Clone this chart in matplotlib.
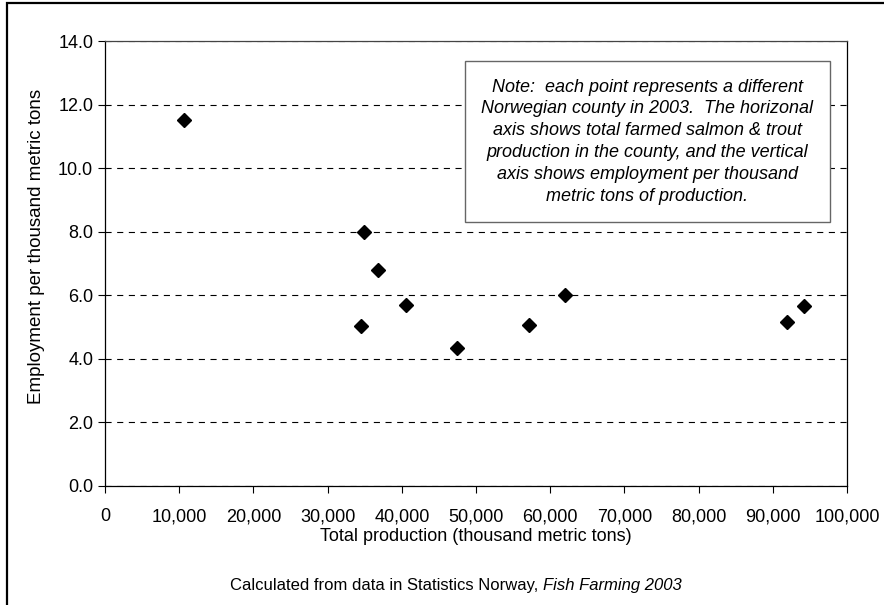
import matplotlib.pyplot as plt
from matplotlib.patches import Rectangle
from matplotlib.ticker import FuncFormatter

plt.rcParams['font.family'] = ['Liberation Sans', 'DejaVu Sans']

# county data, 2003: total production (thousand metric tons) vs employment per thousand tons
production = [10700, 34900, 36800, 34500, 40500, 47400, 57100, 62000, 91900, 94200]
employment = [11.52, 7.98, 6.81, 5.02, 5.70, 4.35, 5.05, 6.00, 5.17, 5.66]

x_ticks = list(range(0, 100001, 10000))
y_ticks = [0, 2, 4, 6, 8, 10, 12, 14]

note = ("Note:  each point represents a different\n"
        "Norwegian county in 2003.  The horizonal\n"
        "axis shows total farmed salmon & trout\n"
        "production in the county, and the vertical\n"
        "axis shows employment per thousand\n"
        "metric tons of production.")

fig = plt.figure(figsize=(8.84, 6.05), dpi=100)
ax = fig.add_axes([0.1188, 0.1967, 0.8394, 0.7355])

# outer frame (cut off on right and bottom like the original)
fig.patches.append(Rectangle((7 / 884, -0.2), 1.2, 1.2 - 3 / 605,
                             transform=fig.transFigure, fill=False,
                             edgecolor='black', linewidth=1.6, clip_on=False))

ax.set_axisbelow(True)
ax.yaxis.grid(True, color='black', linestyle=(0, (5.5, 5)), linewidth=0.8)
ax.plot(production, employment, linestyle='none', marker='D', markersize=7,
        color='black')

ax.set_xlim(0, 100000)
ax.set_ylim(0, 14)
ax.set_xticks(x_ticks)
ax.set_yticks(y_ticks)
ax.xaxis.set_major_formatter(FuncFormatter(lambda v, p: f"{int(v):,}"))
ax.yaxis.set_major_formatter(FuncFormatter(lambda v, p: f"{v:.1f}"))
ax.tick_params(axis='both', direction='out', length=5, width=0.8,
               labelsize=13, colors='black')
ax.tick_params(axis='x', pad=11)
for s in ax.spines.values():
    s.set_linewidth(0.9)
ax.spines['top'].set_color('#444444')
ax.spines['right'].set_color('black')

ax.set_xlabel("Total production (thousand metric tons)", fontsize=13, labelpad=2)
ax.set_ylabel("Employment per thousand metric tons", fontsize=13.5)
ax.yaxis.set_label_coords(-0.081, 0.539)

# note box
ax.add_patch(Rectangle((0.485, 0.593), 0.492, 0.362, transform=ax.transAxes,
                       facecolor='white', edgecolor='#666666', linewidth=1.0,
                       zorder=3))
ax.text(0.731, 0.774, note, transform=ax.transAxes, ha='center', va='center',
        fontsize=13, style='italic', linespacing=1.37, zorder=4)

fig.text(0.614, 0.033, "Calculated from data in Statistics Norway, ",
         ha='right', va='center', fontsize=12)
fig.text(0.614, 0.033, "Fish Farming 2003", ha='left', va='center',
         fontsize=12, style='italic')

fig.savefig("out.png", dpi=100)
